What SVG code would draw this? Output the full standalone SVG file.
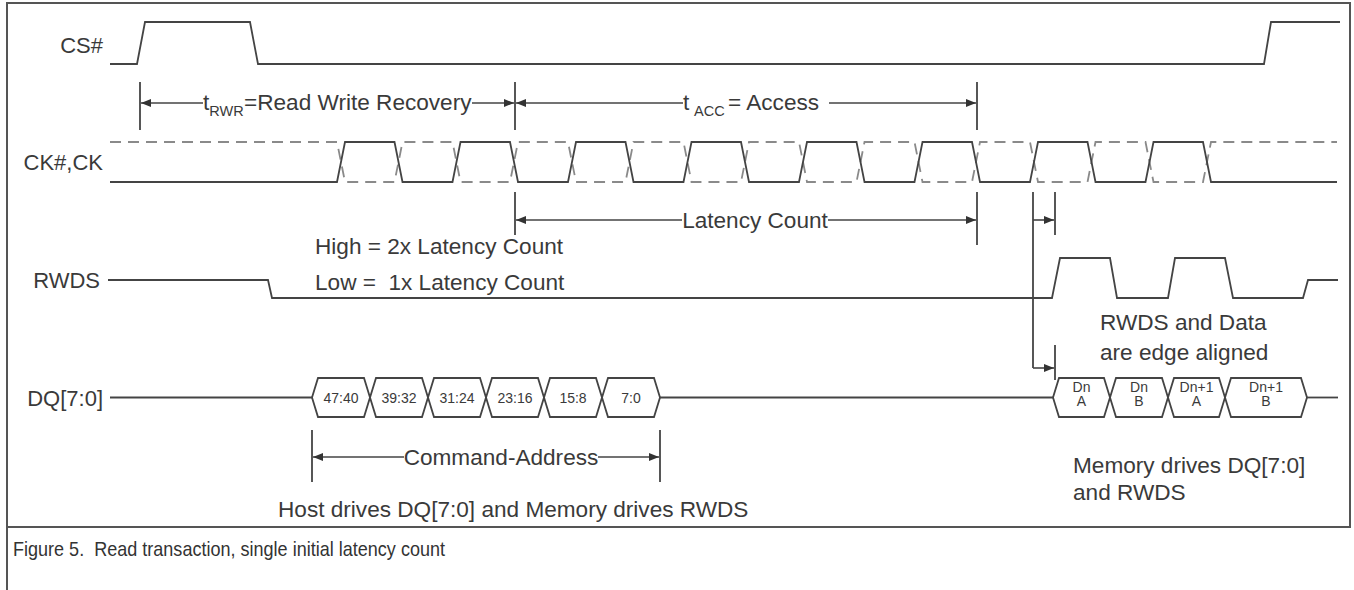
<svg xmlns="http://www.w3.org/2000/svg" width="1354" height="590" viewBox="0 0 1354 590">
<style>
text{font-family:"Liberation Sans",Arial,sans-serif;fill:#3a3a3a}
.lbl{font-size:22px}
.ann{font-size:22.6px}
.sub{font-size:14.5px}
.box{font-size:14px;text-anchor:middle}
.cap{font-size:21px;fill:#333}
.w{fill:none;stroke:#444;stroke-width:1.8;stroke-linejoin:miter}
.d{fill:none;stroke:#8a8a8a;stroke-width:1.8;stroke-dasharray:11 7}
.t{stroke:#444;stroke-width:1.8}
.a{stroke:#444;stroke-width:1.6;fill:none}
.frame{stroke:#555;stroke-width:2;fill:none}
</style>
<defs>
<marker id="ah" viewBox="0 0 10 8" refX="10" refY="4" markerWidth="10" markerHeight="8" markerUnits="userSpaceOnUse" orient="auto-start-reverse">
<path d="M0,0 L10,4 L0,8 z" fill="#333"/>
</marker>
</defs>
<rect width="1354" height="590" fill="#fff"/>
<g id="frame">
<path class="frame" d="M7,590 V3 H1350 V527 H7"/>
</g>
<g id="cs">
<text class="lbl" x="103" y="53" text-anchor="end">CS#</text>
<polyline class="w" points="110,64 137,64 145,22 250,22 258,64 1264,64 1271,22 1340,22"/>
</g>
<g id="ck">
<text class="lbl" x="103" y="170" text-anchor="end">CK#,CK</text>
<polyline class="d" points="110,142 337,142 345,182 394.5,182 402.5,142 452.5,142 460.5,182 510,182 518,142 568,142 576,182 625.5,182 633.5,142 683.5,142 691.5,182 741,182 749,142 799,142 807,182 856.5,182 864.5,142 914.5,142 922.5,182 972,182 980,142 1030,142 1038,182 1087.5,182 1095.5,142 1145.5,142 1153.5,182 1203,182 1211,142 1337,142"/>
<polyline class="w" points="110,182 337,182 345,142 394.5,142 402.5,182 452.5,182 460.5,142 510,142 518,182 568,182 576,142 625.5,142 633.5,182 683.5,182 691.5,142 741,142 749,182 799,182 807,142 856.5,142 864.5,182 914.5,182 922.5,142 972,142 980,182 1030,182 1038,142 1087.5,142 1095.5,182 1145.5,182 1153.5,142 1203,142 1211,182 1337,182"/>
</g>
<g id="rwds">
<text class="lbl" x="100" y="288" text-anchor="end">RWDS</text>
<polyline class="w" points="108,280 268,280 272,298 1052,298 1060,258 1110,258 1117,298 1168,298 1175,258 1225,258 1233,298 1303,298 1308,280 1338,280"/>
<text class="ann" x="315" y="254">High = 2x Latency Count</text>
<text class="ann" x="315" y="290" xml:space="preserve">Low =  1x Latency Count</text>
</g>
<g id="dq">
<text class="lbl" x="103" y="406" text-anchor="end">DQ[7:0]</text>
<polyline class="w" points="110,397.5 312,397.5"/>
<polyline class="w" points="660,397.5 1053,397.5"/>
<polyline class="w" points="1307,397.5 1338,397.5"/>
<g id="ca-bytes">
<polygon class="w" points="312,397.5 318,378 364,378 370,397.5 364,417 318,417"/>
<polygon class="w" points="370,397.5 376,378 422,378 428,397.5 422,417 376,417"/>
<polygon class="w" points="428,397.5 434,378 480,378 486,397.5 480,417 434,417"/>
<polygon class="w" points="486,397.5 492,378 538,378 544,397.5 538,417 492,417"/>
<polygon class="w" points="544,397.5 550,378 596,378 602,397.5 596,417 550,417"/>
<polygon class="w" points="602,397.5 608,378 654,378 660,397.5 654,417 608,417"/>
<text class="box" x="341" y="403">47:40</text>
<text class="box" x="399" y="403">39:32</text>
<text class="box" x="457" y="403">31:24</text>
<text class="box" x="515" y="403">23:16</text>
<text class="box" x="573" y="403">15:8</text>
<text class="box" x="631" y="403">7:0</text>
</g>
<g id="data-bytes">
<polygon class="w" points="1053,397.5 1059,378 1104,378 1110,397.5 1104,417 1059,417"/>
<polygon class="w" points="1110,397.5 1116,378 1162,378 1168,397.5 1162,417 1116,417"/>
<polygon class="w" points="1168,397.5 1174,378 1219,378 1225,397.5 1219,417 1174,417"/>
<polygon class="w" points="1225,397.5 1231,378 1301,378 1307,397.5 1301,417 1231,417"/>
<text class="box" x="1081.5" y="392">Dn</text><text class="box" x="1081.5" y="406">A</text>
<text class="box" x="1139" y="392">Dn</text><text class="box" x="1139" y="406">B</text>
<text class="box" x="1196.5" y="392">Dn+1</text><text class="box" x="1196.5" y="406">A</text>
<text class="box" x="1266" y="392">Dn+1</text><text class="box" x="1266" y="406">B</text>
</g>
</g>
<g id="connectors">
<line class="t" x1="140" y1="82" x2="140" y2="130"/>
<line class="t" x1="515" y1="82" x2="515" y2="130"/>
<line class="t" x1="977" y1="82" x2="977" y2="130"/>
<line class="t" x1="515" y1="192" x2="515" y2="235"/>
<line class="t" x1="977" y1="192" x2="977" y2="245"/>
<line class="t" x1="1033" y1="192" x2="1033" y2="368"/>
<line class="t" x1="1055" y1="192" x2="1055" y2="235"/>
<line class="t" x1="1055" y1="345" x2="1055" y2="380"/>
<line class="t" x1="312" y1="430" x2="312" y2="482"/>
<line class="t" x1="660" y1="430" x2="660" y2="482"/>
<line class="a" x1="203" y1="103" x2="141" y2="103" marker-end="url(#ah)"/>
<line class="a" x1="472" y1="103" x2="514" y2="103" marker-end="url(#ah)"/>
<line class="a" x1="683" y1="103" x2="516" y2="103" marker-end="url(#ah)"/>
<line class="a" x1="829" y1="103" x2="976" y2="103" marker-end="url(#ah)"/>
<line class="a" x1="682" y1="220" x2="516" y2="220" marker-end="url(#ah)"/>
<line class="a" x1="828" y1="220" x2="976" y2="220" marker-end="url(#ah)"/>
<line class="a" x1="1033" y1="220" x2="1054" y2="220" marker-end="url(#ah)"/>
<line class="a" x1="1033" y1="368" x2="1054" y2="368" marker-end="url(#ah)"/>
<line class="a" x1="404" y1="457" x2="313" y2="457" marker-end="url(#ah)"/>
<line class="a" x1="598" y1="457" x2="659" y2="457" marker-end="url(#ah)"/>
</g>
<g id="labels">
<text class="ann" x="203" y="110">t<tspan class="sub" dy="6">RWR</tspan><tspan x="244" dy="-6">=Read Write Recovery</tspan></text>
<text class="ann" x="683" y="110">t<tspan class="sub" x="694" dy="6">ACC</tspan><tspan x="728" dy="-6">= Access</tspan></text>
<text class="ann" x="755" y="228" text-anchor="middle">Latency Count</text>
<text class="ann" x="1100" y="330">RWDS and Data</text>
<text class="ann" x="1100" y="360">are edge aligned</text>
<text class="ann" x="501" y="465" text-anchor="middle">Command-Address</text>
<text class="ann" x="278" y="517">Host drives DQ[7:0] and Memory drives RWDS</text>
<text class="ann" x="1073" y="473">Memory drives DQ[7:0]</text>
<text class="ann" x="1073" y="500">and RWDS</text>
<text class="cap" x="13" y="556" textLength="432" lengthAdjust="spacingAndGlyphs" xml:space="preserve">Figure 5.  Read transaction, single initial latency count</text>
</g>
</svg>
